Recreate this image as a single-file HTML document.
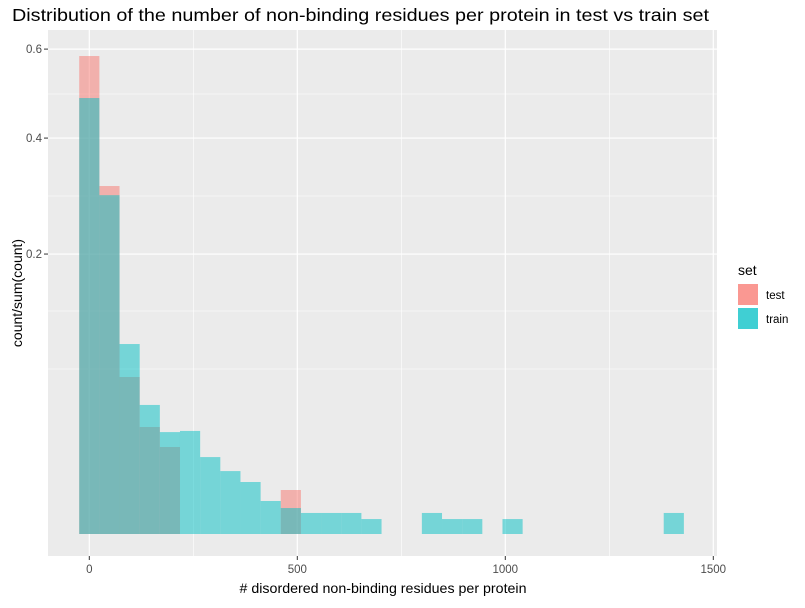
<!DOCTYPE html>
<html><head><meta charset="utf-8"><style>
body{margin:0;background:#fff;font-family:"Liberation Sans",Arial,sans-serif;}
svg text{font-family:"Liberation Sans",Arial,sans-serif;}
</style></head><body>
<svg id="chart" width="805" height="603" xmlns="http://www.w3.org/2000/svg">
<rect width="805" height="603" fill="#fff"/>
<text x="12" y="21" font-size="17.5" textLength="697" lengthAdjust="spacingAndGlyphs" fill="#000">Distribution of the number of non-binding residues per protein in test vs train set</text>
<rect x="48" y="30" width="669" height="526" fill="#EBEBEB"/>
<g id="grid"></g>
<g id="bars"></g>
<g id="axes"></g>
<text x="383" y="593" font-size="14" textLength="287" lengthAdjust="spacingAndGlyphs" text-anchor="middle" fill="#000"># disordered non-binding residues per protein</text>
<text transform="translate(22,293) rotate(-90)" font-size="14" text-anchor="middle" fill="#000">count/sum(count)</text>
<g>
<text x="738" y="275" font-size="14" fill="#000">set</text>
<rect x="738" y="284" width="20" height="21" fill="#F8766D" opacity="0.75"/>
<text x="766" y="299" font-size="11.5" fill="#000">test</text>
<rect x="738" y="308" width="20" height="21" fill="#00BFC4" opacity="0.75"/>
<text x="766" y="323" font-size="11.5" fill="#000">train</text>
</g>
</svg>
<script>
const binWidth = 48.45;
const testBins = [0, 1, 2, 3, 4, 10];
const testValues = [0.583, 0.309, 0.0629, 0.0292, 0.0193, 0.00494];
const trainBins = [0, 1, 2, 3, 4, 5, 6, 7, 8, 9, 10, 11, 12, 13, 14, 17, 18, 19, 21, 29];
const trainValues = [0.485, 0.293, 0.0921, 0.0425, 0.0265, 0.0271, 0.0151, 0.0101, 0.0069, 0.00278, 0.00172, 0.00113, 0.00113, 0.00113, 0.00057, 0.00113, 0.00057, 0.00057, 0.00057, 0.00113];
const xTicks = [0, 500, 1000, 1500];
const yTicks = [0.2, 0.4, 0.6];

const NS = "http://www.w3.org/2000/svg";
function xs(v){ return 89.3 + v * 0.416; }
function ys(v){ return 534 - Math.sqrt(v) * 626; }
function mk(tag, attrs, parent){ const e = document.createElementNS(NS, tag); for (const k in attrs) e.setAttribute(k, attrs[k]); parent.appendChild(e); return e; }

const grid = document.getElementById('grid');
[250, 750, 1250].forEach(v => {
  const l = mk('line', {x1: xs(v), x2: xs(v), y1: 30, y2: 556, stroke: '#fff', 'stroke-width': 0.6}, grid);
  
  
});
[311, 369, 196, 94].forEach(y => {
  const l = mk('line', {x1: 48, x2: 717, y1: y, y2: y, stroke: '#fff', 'stroke-width': 0.6}, grid);
  
  
});
xTicks.forEach(v => {
  const l = mk('line', {x1: xs(v), x2: xs(v), y1: 30, y2: 556, stroke: '#fff', 'stroke-width': 1.2}, grid);
  
  
});
yTicks.forEach(v => {
  const l = mk('line', {x1: 48, x2: 717, y1: ys(v), y2: ys(v), stroke: '#fff', 'stroke-width': 1.2}, grid);
  
  
});

const bars = document.getElementById('bars');
function drawBars(bins, vals, color, name){
  bins.forEach((b, i) => {
    const x0 = xs((b - 0.5) * binWidth), x1 = xs((b + 0.5) * binWidth);
    const y = ys(vals[i]);
    const r = mk('rect', {x: x0, y: y, width: x1 - x0, height: ys(0) - y, fill: color, 'fill-opacity': 0.5}, bars);
    
    
  });
}
drawBars(testBins, testValues, '#F8766D', 'test');
drawBars(trainBins, trainValues, '#00BFC4', 'train');

const axes = document.getElementById('axes');
xTicks.forEach(v => {
  mk('line', {x1: xs(v), x2: xs(v), y1: 556, y2: 560, stroke: '#333', 'stroke-width': 1}, axes);
  const t = mk('text', {x: xs(v), y: 573, 'font-size': 11.5, 'text-anchor': 'middle', fill: '#4D4D4D'}, axes);
  t.textContent = v;
  
  
});
yTicks.forEach(v => {
  mk('line', {x1: 44, x2: 48, y1: ys(v), y2: ys(v), stroke: '#333', 'stroke-width': 1}, axes);
  const t = mk('text', {x: 42, y: ys(v) + 4, 'font-size': 11.5, 'text-anchor': 'end', fill: '#4D4D4D'}, axes);
  t.textContent = v.toFixed(1);
  
  
});
</script>
</body></html>
